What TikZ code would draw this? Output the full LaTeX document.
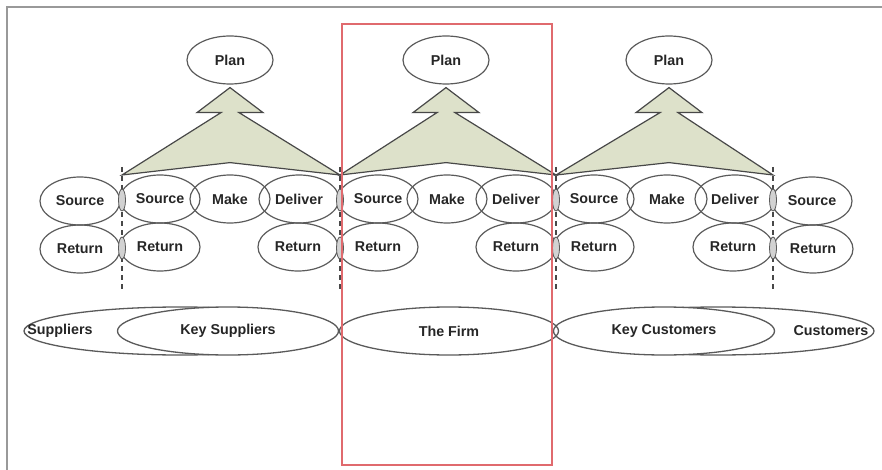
\documentclass[tikz,border=0pt]{standalone}
\usepackage{fontspec}
\setmainfont{Liberation Sans}
\usetikzlibrary{shapes.geometric}
\definecolor{outl}{HTML}{5A5A5A}
\definecolor{trifill}{HTML}{DDE1CA}
\definecolor{redbox}{HTML}{E06A6E}
\begin{document}
\begin{tikzpicture}[x=1pt,y=-1pt,
  every node/.style={font=\fontsize{14.3}{16}\selectfont\bfseries, text=black!85},
  oval/.style={ellipse, draw=outl, line width=1.2pt, inner sep=0pt, minimum width=80pt, minimum height=48pt},
  planoval/.style={oval, minimum width=86pt},
  bigoval/.style={ellipse, draw=outl, fill=white, line width=1.3pt, inner sep=0pt, minimum width=221pt, minimum height=48pt},
  lens/.style={ellipse, draw=outl, fill=gray!35, line width=0.8pt, inner sep=0pt, minimum width=7pt, minimum height=22pt},
  tri/.style={draw=outl!80!black, fill=trifill, line width=1.2pt, line join=miter},
  divider/.style={draw=outl!80!black, line width=1.2pt, dash pattern=on 5pt off 4pt}]
\useasboundingbox (0,0) rectangle (882,470);
% frame
\draw[gray!80, line width=1.5pt] (7,470) -- (7,7) -- (882,7);

% Plan nodes
\node[planoval] (plan1) at (230,60) {Plan};
\node[planoval] (plan2) at (446,60) {Plan};
\node[planoval] (plan3) at (669,60) {Plan};

% dividers
\foreach \n/\x in {d1/122, d2/340, d3/556, d4/773}{
  \coordinate (\n t) at (\x,167);
  \coordinate (\n b) at (\x,292);
  \coordinate (\n) at (\x,175);
}
\foreach \n in {d1,d2,d3,d4}{ \draw[divider] (\n t) -- (\n b); }

% triangles (arrow shapes pointing up to Plan)
\foreach \p/\l/\r in {plan1/d1/d2, plan2/d2/d3, plan3/d3/d4}{
  \draw[tri] ([yshift=-3pt]\p.south) -- ([xshift=33pt,yshift=-28pt]\p.south)
     -- ([xshift=9pt,yshift=-28pt]\p.south) -- (\r)
     -- ([yshift=-78pt]\p.south) -- (\l)
     -- ([xshift=-9pt,yshift=-28pt]\p.south) -- ([xshift=-33pt,yshift=-28pt]\p.south) -- cycle;
}

% row 1
\node[oval] (s0) at (80,201) {Source};
\node[oval] (s1) at (160,199) {Source};
\node[oval] (m1) at (230,199) {Make};
\node[oval] (dl1) at (299,199) {Deliver};
\node[oval] (s2) at (378,199) {Source};
\node[oval] (m2) at (447,199) {Make};
\node[oval] (dl2) at (516,199) {Deliver};
\node[oval] (s3) at (594,199) {Source};
\node[oval] (m3) at (667,199) {Make};
\node[oval] (dl3) at (735,199) {Deliver};
\node[oval] (s4) at (812,201) {Source};
% row 2
\node[oval] (r0) at (80,249) {Return};
\node[oval] (r1) at (160,247) {Return};
\node[oval] (r2) at (298,247) {Return};
\node[oval] (r3) at (378,247) {Return};
\node[oval] (r4) at (516,247) {Return};
\node[oval] (r5) at (594,247) {Return};
\node[oval] (r6) at (733,247) {Return};
\node[oval] (r7) at (813,249) {Return};

% lens overlaps at dividers
\foreach \x in {122,340,556,773}{
  \node[lens] at (\x,200) {};
  \node[lens] at (\x,248) {};
}

% bottom row
\node[bigoval, minimum width=312pt, label={[xshift=-120pt]center:Suppliers}] (sup) at (180,331) {};
\node[bigoval, minimum width=312pt, label={[xshift=113pt]center:Customers}] (cus) at (718,331) {};
\node[bigoval] (ksup) at (228,331) {Key Suppliers};
\node[bigoval] (kcus) at (664,331) {Key Customers};
\node[bigoval, fill=none, minimum width=219pt] (firm) at (449,331) {The Firm};

% red highlight box
\draw[redbox, line width=1.3pt] (342,24) rectangle (552,465);
\end{tikzpicture}
\end{document}
